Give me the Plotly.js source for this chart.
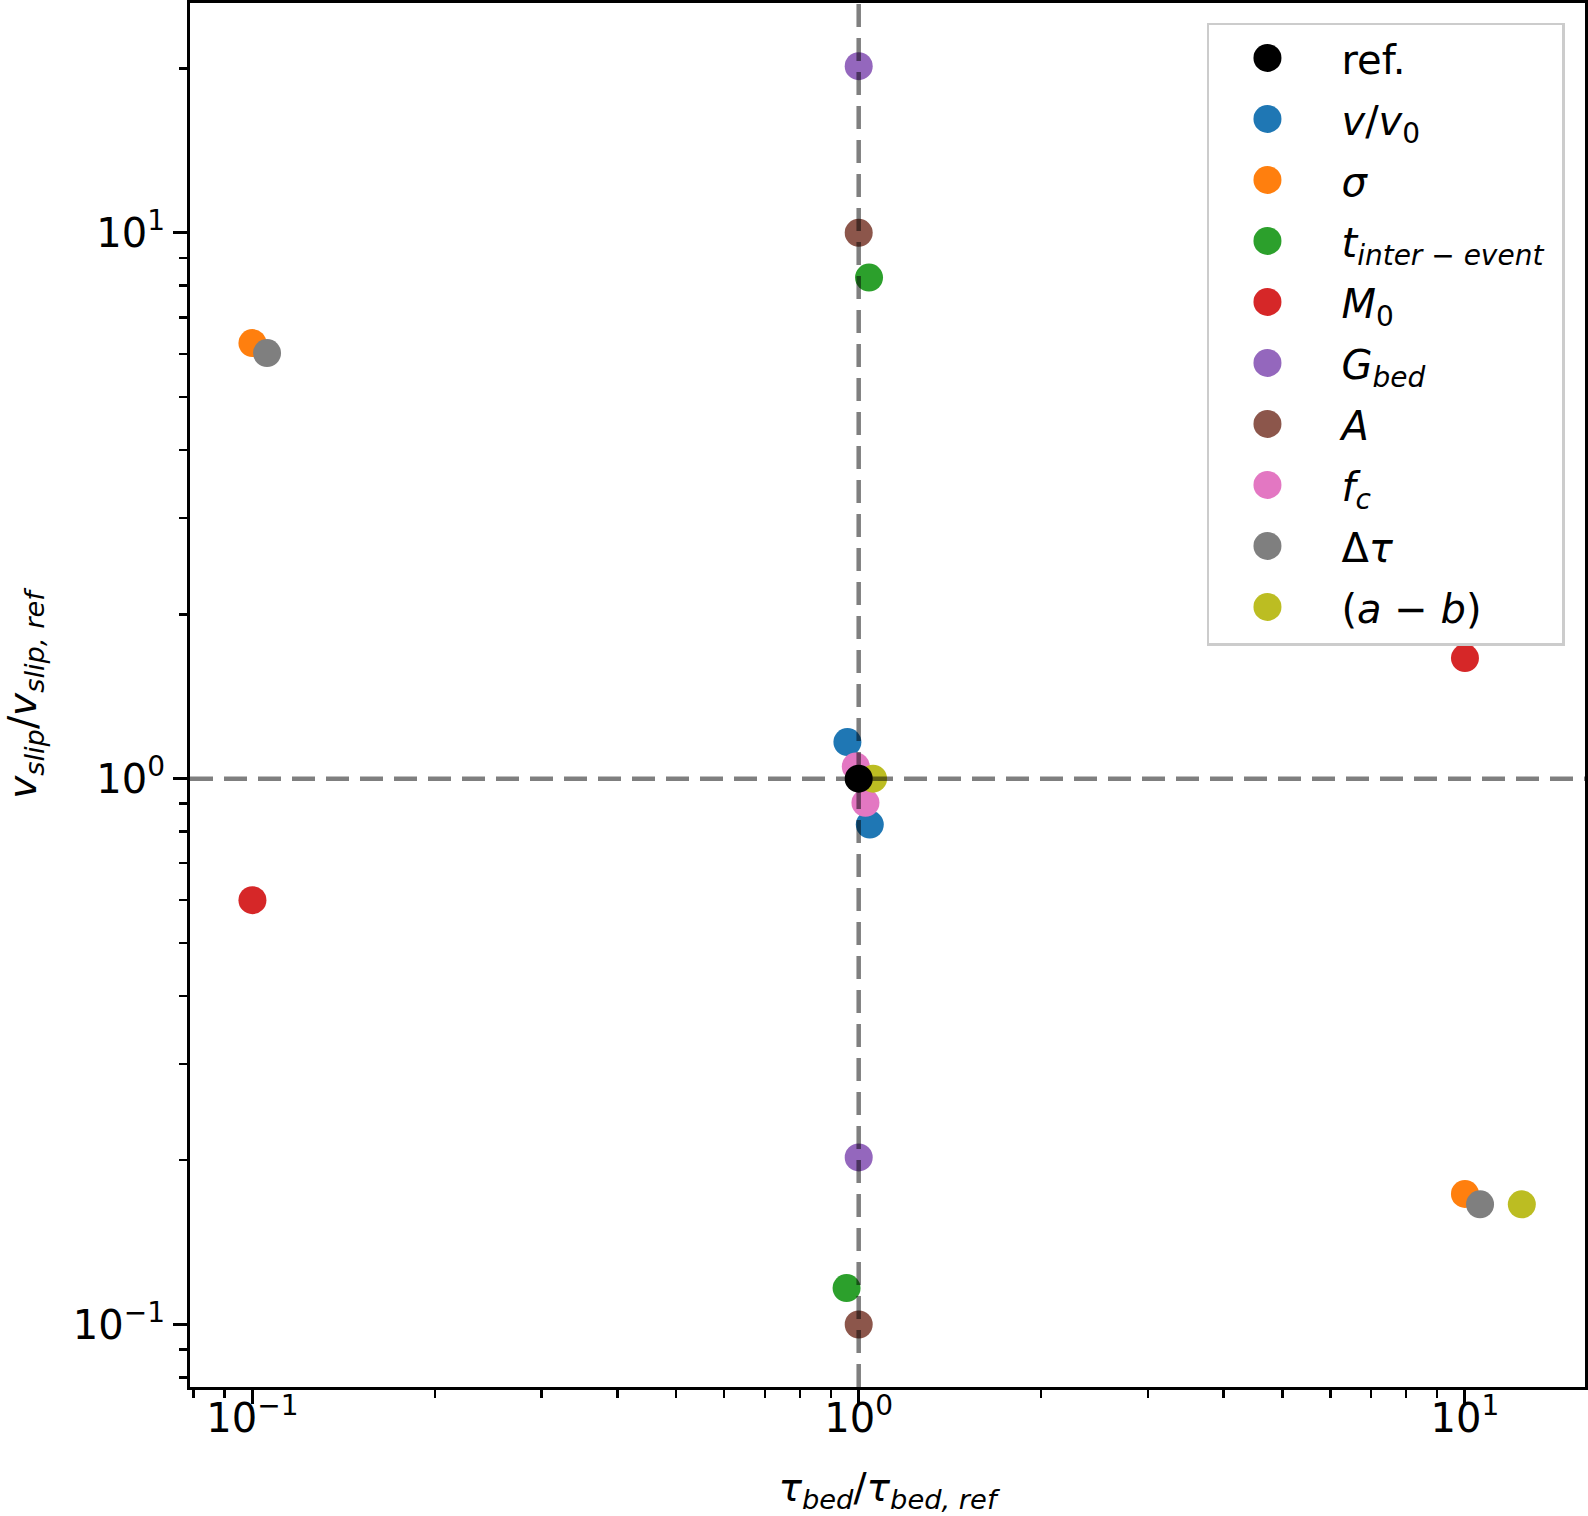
<!DOCTYPE html>
<html>
<head>
<meta charset="utf-8">
<script src="https://cdn.plot.ly/plotly-3.0.1.min.js"></script>
<style>
  html, body { margin: 0; padding: 0; background: #fff; }
  #chart { width: 1588px; height: 1516px; }
</style>
</head>
<body>
<div id="chart"></div>
<script>
// ---- data ----
const seriesLabels = [
  'ref.',
  '<i>v</i>/<i>v</i><sub>0</sub>',
  '<i>σ</i>',
  '<i>t</i><sub><i>inter − event</i></sub>',
  '<i>M</i><sub>0</sub>',
  '<i>G</i><sub><i>bed</i></sub>',
  '<i>A</i>',
  '<i>f</i><sub><i>c</i></sub>',
  'Δ<i>τ</i>',
  '(<i>a</i> − <i>b</i>)'
];
const seriesColors = ['#000000', '#1f77b4', '#ff7f0e', '#2ca02c', '#d62728',
                      '#9467bd', '#8c564b', '#e377c2', '#7f7f7f', '#bcbd22'];

const refX   = [1];           const refY   = [1];
const vX     = [0.958, 1.043]; const vY     = [1.167, 0.824];
const sigmaX = [0.1, 10];      const sigmaY = [6.28, 0.1735];
const tX     = [1.04, 0.955];  const tY     = [8.28, 0.1166];
const m0X    = [0.1, 10];      const m0Y    = [0.599, 1.663];
const gX     = [1, 1];         const gY     = [20.2, 0.2023];
const aX     = [1, 1];         const aY     = [10, 0.1];
const fcX    = [0.989, 1.026]; const fcY    = [1.053, 0.903];
const dtX    = [0.1057, 10.59]; const dtY   = [6.02, 0.166];
const abX    = [1.056, 12.41]; const abY    = [1, 0.166];

const seriesX = [refX, vX, sigmaX, tX, m0X, gX, aX, fcX, dtX, abX];
const seriesY = [refY, vY, sigmaY, tY, m0Y, gY, aY, fcY, dtY, abY];

const majorTicks = [0.1, 1, 10];
const majorTickText = ['10<sup>−1</sup>', '10<sup>0</sup>', '10<sup>1</sup>'];
const minorTicks = [0.08, 0.09, 0.2, 0.3, 0.4, 0.5, 0.6, 0.7, 0.8, 0.9,
                    2, 3, 4, 5, 6, 7, 8, 9, 20];
const refLineValue = 1;

// ---- traces: ref drawn last (on top), but first in legend ----
const order = [1, 2, 3, 4, 5, 6, 7, 8, 9, 0];
const traces = order.map(i => ({
  type: 'scatter',
  mode: 'markers',
  x: seriesX[i],
  y: seriesY[i],
  name: seriesLabels[i],
  legendrank: i + 1,
  legendgroup: 'g' + i,
  marker: { color: seriesColors[i], size: 28, line: { width: 0 } },
  hoverinfo: 'x+y+name'
}));

const font = { family: 'DejaVu Sans, Liberation Sans, sans-serif', color: '#000' };

const axisCommon = {
  type: 'log',
  showgrid: false,
  zeroline: false,
  showline: true,
  linecolor: '#000',
  linewidth: 3,
  mirror: true,
  ticks: 'outside',
  ticklen: 14,
  tickwidth: 3,
  tickcolor: '#000',
  tickmode: 'array',
  tickvals: majorTicks,
  ticktext: majorTickText,
  tickfont: Object.assign({ size: 40 }, font),
  minor: { tickmode: 'array', tickvals: minorTicks, ticks: 'outside',
           ticklen: 8, tickwidth: 2.5, tickcolor: '#000', showgrid: false }
};

const layout = {
  width: 1588,
  height: 1516,
  margin: { l: 190, r: 3, t: 3, b: 128.5 },
  paper_bgcolor: '#fff',
  plot_bgcolor: '#fff',
  font: font,
  showlegend: true,
  xaxis: Object.assign({}, axisCommon, {
    range: [-1.103, 1.198],
    ticklabelstandoff: -20,
    title: { text: '<i>τ</i><sub><i>bed</i></sub>/<i>τ</i><sub><i>bed, ref</i></sub>',
             font: Object.assign({ size: 39 }, font), standoff: 34 }
  }),
  yaxis: Object.assign({}, axisCommon, {
    range: [-1.1145, 1.421],
    title: { text: '<i>v</i><sub><i>slip</i></sub>/<i>v</i><sub><i>slip, ref</i></sub>',
             font: Object.assign({ size: 39 }, font), standoff: 37 }
  }),
  legend: {
    x: 0.729, y: 0.9856, xanchor: 'left', yanchor: 'top',
    bgcolor: 'rgba(255,255,255,0.8)',
    bordercolor: '#cccccc',
    borderwidth: 2.5,
    font: Object.assign({ size: 40 }, font),
    itemwidth: 122,
    tracegroupgap: 6
  },
  shapes: [
    { type: 'line', xref: 'x', yref: 'paper', x0: refLineValue, x1: refLineValue, y0: 0, y1: 1,
      layer: 'above', line: { color: 'rgba(0,0,0,0.5)', width: 4.5, dash: '23px,11px' } },
    { type: 'line', xref: 'paper', yref: 'y', x0: 0, x1: 1, y0: refLineValue, y1: refLineValue,
      layer: 'above', line: { color: 'rgba(0,0,0,0.5)', width: 4.5, dash: '23px,11px' } }
  ]
};

Plotly.newPlot('chart', traces, layout, { staticPlot: true, displayModeBar: false }).then(() => {
  // enlarge legend symbols to match the plotted marker size (matplotlib-style legend)
  document.querySelectorAll('.legend .legendpoints path.scatterpts').forEach(p => {
    p.setAttribute('d', 'M6,0A14,14 0 1,1 -8,-14A14,14 0 0,1 6,0Z');
  });
  // widen / heighten the legend frame slightly
  document.querySelectorAll('.legend rect.bg').forEach(r => {
    const w = parseFloat(r.getAttribute('width'));
    const h = parseFloat(r.getAttribute('height'));
    r.setAttribute('width', w + 13);
    r.setAttribute('height', h + 4);
  });
});
</script>
</body>
</html>
